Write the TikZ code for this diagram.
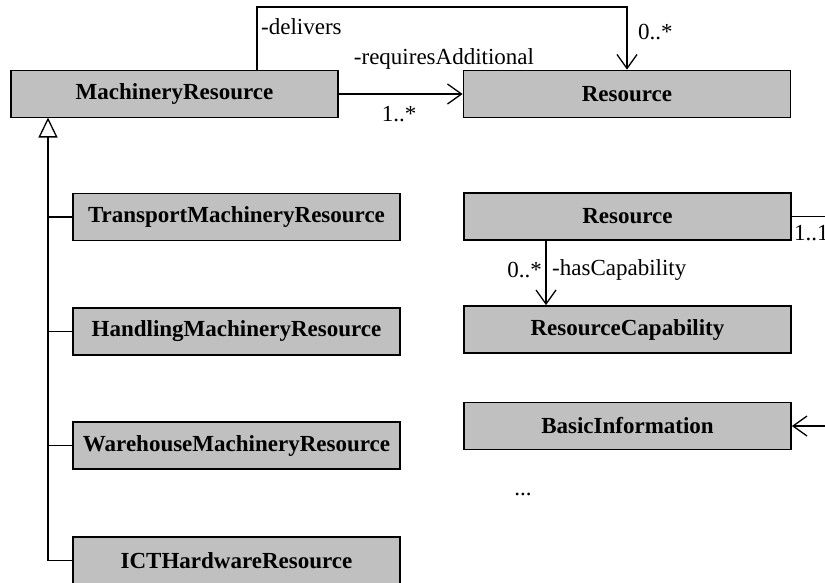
\documentclass[tikz,border=0pt]{standalone}
\usepackage{fontspec}
\setmainfont{Liberation Serif}
\usetikzlibrary{arrows.meta}
\definecolor{boxgray}{RGB}{192,192,192}
\newcommand{\figfont}{\fontsize{23}{27}\selectfont}
\tikzset{
  cls/.style={draw, line width=1.8pt, fill=boxgray, inner sep=0pt,
    minimum width=327pt, minimum height=47pt, font=\figfont\bfseries},
  assoc/.style={line width=1.3pt, -{Straight Barb[length=14pt,width=20pt,line width=1.3pt]}},
  lbl/.style={inner sep=0pt}
}
\begin{document}
\begin{tikzpicture}[x=1pt, y=-1pt, line join=miter, font=\figfont]
	\useasboundingbox (0,0) rectangle (825,582);
	% classes
	\node[cls] (mach)  at (174.5,94)  {MachineryResource};
	\node[cls] (res)   at (627,94)    {Resource};
	\node[cls] (trans) at (236.5,217) {TransportMachineryResource};
	\node[cls] (hand)  at (236.5,331.5) {HandlingMachineryResource};
	\node[cls] (ware)  at (236.5,445.5) {WarehouseMachineryResource};
	\node[cls] (ict)   at (236.5,560.5) {ICTHardwareResource};
	\node[cls] (res2)  at (627.5,216.5) {Resource};
	\node[cls] (cap)   at (627.5,329.5) {ResourceCapability};
	\node[cls] (basic) at (627.5,426)   {BasicInformation};
	\node[lbl] (more)  at (523,494)     {...};
	% associations
	\coordinate (dtop) at (257,7);
	\draw[assoc] (mach.north -| dtop) -- (dtop) -| (res.north);
	\node[lbl, anchor=west] (delivers) at (261,27) {-delivers};
	\node[lbl, anchor=west] (m1) at (638,32) {0..*};
	\draw[assoc] (mach.east) -- (res.west);
	\node[lbl] (reqadd) at (444,59) {-requiresAdditional};
	\node[lbl] (m2) at (399,114) {1..*};
	\coordinate (cx) at (546,0);
	\draw[assoc] (res2.south -| cx) -- (cap.north -| cx);
	\node[lbl, anchor=east] (m3) at (542,270) {0..*};
	\node[lbl, anchor=west] (hascap) at (552,270) {-hasCapability};
	\coordinate (rout) at (830,216.5);
	\draw[line width=1.3pt] (res2.east) -- (rout);
	\node[lbl, anchor=west] (m4) at (794,233) {1..1};
	\coordinate (bin) at (830,426);
	\draw[assoc] (bin) -- (basic.east);
	% generalization
	\coordinate (gtop) at (48,117.5);
	\draw[line width=1.3pt, -{Triangle[open,length=20pt,width=19pt,line width=1.3pt]}] (ict.west) -| (gtop);
	\foreach \n in {trans,hand,ware}
		\draw[line width=1.3pt] (\n.west) -- (\n.west -| gtop);
\end{tikzpicture}
\end{document}
